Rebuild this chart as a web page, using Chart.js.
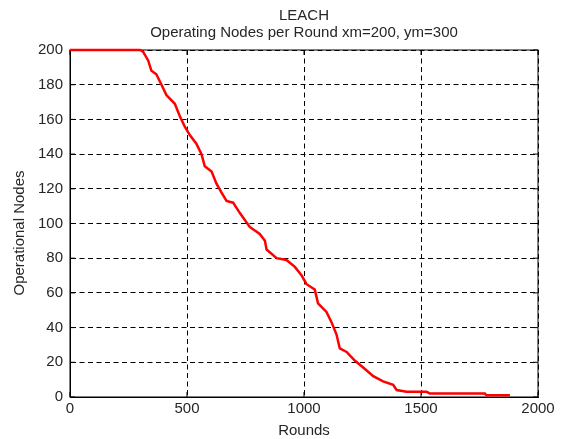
<!DOCTYPE html>
<html>
<head>
<meta charset="utf-8">
<title>LEACH</title>
<script src="https://cdn.jsdelivr.net/npm/chart.js@4/dist/chart.umd.min.js"></script>
<style>
    html, body { margin: 0; padding: 0; background: #fff; }
    #wrap { width: 563px; height: 439px; }
</style>
</head>
<body>
<div id="wrap"><canvas id="nodesChart"></canvas></div>
<script>
// simulation output: alive nodes vs round
const rounds = [0, 300, 312, 334, 348, 369, 391, 412, 448, 469, 490, 512, 540, 562, 576, 605,
    626, 647, 669, 697, 726, 768, 811, 833, 840, 883, 925, 961, 990, 1011, 1046, 1060, 1096,
    1118, 1139, 1153, 1182, 1217, 1253, 1296, 1338, 1381, 1396, 1438, 1524, 1538, 1773, 1780, 1880];
const aliveNodes = [200, 200, 199, 194, 188, 186, 180, 174, 169, 162, 156, 151, 146, 140, 133, 130,
    123, 118, 113, 112, 106, 98, 94, 90, 85, 80, 79, 75, 70, 65, 62, 54, 49,
    43, 36, 28, 26, 21, 17, 12, 9, 7, 4, 3, 3, 2, 2, 1, 1];
const xTicks = [0, 500, 1000, 1500, 2000];
const yTicks = [0, 20, 40, 60, 80, 100, 120, 140, 160, 180, 200];

const titleText = "LEACH";
const subtitleText = "Operating Nodes per Round xm=200, ym=300";
const xLabel = "Rounds";
const yLabel = "Operational Nodes";

const FONT = "'Liberation Sans', Arial, sans-serif";
const TEXT = "#262626";

// solid box around the plot + small inward ticks (matlab style)
const frame = {
    id: "frame",
    beforeDatasetsDraw(chart) {
        const { ctx, chartArea: a, scales } = chart;
        ctx.save();
        ctx.strokeStyle = "#000";
        ctx.lineWidth = 1;
        ctx.setLineDash([]);
        ctx.strokeRect(a.left, a.top, a.right - a.left, a.bottom - a.top);
        ctx.beginPath();
        xTicks.forEach(v => {
            const x = scales.x.getPixelForValue(v);
            ctx.moveTo(x, a.bottom); ctx.lineTo(x, a.bottom - 5);
            ctx.moveTo(x, a.top); ctx.lineTo(x, a.top + 5);
        });
        yTicks.forEach(v => {
            const y = scales.y.getPixelForValue(v);
            ctx.moveTo(a.left, y); ctx.lineTo(a.left + 5, y);
            ctx.moveTo(a.right, y); ctx.lineTo(a.right - 5, y);
        });
        ctx.stroke();
        ctx.restore();
    },
    afterDraw(chart) {
        const { ctx, chartArea: a } = chart;
        const cx = (a.left + a.right) / 2;
        ctx.save();
        ctx.fillStyle = TEXT;
        ctx.font = "15px " + FONT;
        ctx.textAlign = "center";
        ctx.textBaseline = "middle";
        ctx.fillText(titleText, cx, 16);
        ctx.fillText(subtitleText, cx, 33);
        ctx.fillText(xLabel, cx, 431);
        ctx.translate(20, 233);
        ctx.rotate(-Math.PI / 2);
        ctx.fillText(yLabel, 0, 0);
        ctx.restore();
    }
};

const ctx = document.getElementById("nodesChart").getContext("2d");
new Chart(ctx, {
    type: "line",
    data: {
        datasets: [{
            label: "Operational Nodes",
            data: rounds.map((r, i) => ({ x: r, y: aliveNodes[i] })),
            borderColor: "#ff0000",
            borderWidth: 2.5,
            pointRadius: 0,
            tension: 0,
            fill: false,
            clip: false
        }]
    },
    options: {
        responsive: true,
        maintainAspectRatio: false,
        animation: false,
        layout: { padding: { top: 50, right: 25, left: 0, bottom: 0 } },
        plugins: {
            legend: { display: false },
            tooltip: { enabled: false }
        },
        scales: {
            x: {
                type: "linear",
                min: 0,
                max: 2000,
                afterBuildTicks: s => { s.ticks = xTicks.map(v => ({ value: v })); },
                afterFit: s => { s.height = 42; },
                ticks: {
                    color: TEXT, font: { family: FONT, size: 15 }, padding: 3, maxRotation: 0,
                    callback: v => String(v)
                },
                grid: { color: "#000", lineWidth: 1, drawTicks: false },
                border: { color: "#000", width: 1, dash: [5, 3.5] }
            },
            y: {
                min: 0,
                max: 200,
                afterBuildTicks: s => { s.ticks = yTicks.map(v => ({ value: v })); },
                afterFit: s => { s.width = 70; },
                ticks: {
                    color: TEXT, font: { family: FONT, size: 15 }, padding: 7,
                    callback: v => String(v)
                },
                grid: { color: "#000", lineWidth: 1, drawTicks: false },
                border: { color: "#000", width: 1, dash: [5, 3.5] }
            }
        }
    },
    plugins: [frame]
});
</script>
</body>
</html>
